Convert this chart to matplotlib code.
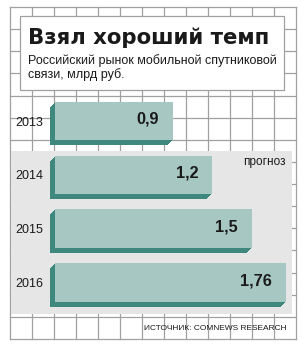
import matplotlib
matplotlib.use("Agg")
import matplotlib.pyplot as plt
import matplotlib.patheffects as pe
from matplotlib.patches import Rectangle
import numpy as np

# данные
years = ["2013", "2014", "2015", "2016"]
values = [0.9, 1.2, 1.5, 1.76]
title = "Взял хороший темп"
subtitle = ["Российский рынок мобильной спутниковой", "связи, млрд руб."]
forecast_label = "прогноз"
source = "ИСТОЧНИК: COMNEWS RESEARCH"

light = "#a7c7c3"
dark = "#3f887e"
panel = "#e6e6e6"
gridc = "#a0a0a0"
textc = "#1a1a1a"
regular = ["Liberation Sans", "DejaVu Sans"]

W, H = 306, 349
fig = plt.figure(figsize=(W / 100, H / 100), dpi=100)
renderer = fig.canvas.get_renderer()


def fit_width(t, target):
    # подогнать размер шрифта под ширину из картинки
    w = t.get_window_extent(renderer).width
    t.set_fontsize(t.get_fontsize() * target / w)


# фон в пикселях
bg = fig.add_axes([0, 0, 1, 1])
bg.set_xlim(0, W)
bg.set_ylim(H, 0)
bg.axis("off")

for x in np.linspace(9.5, 295.5, 14):
    bg.plot([x, x], [7, 339], color=gridc, lw=0.9, zorder=1)
for y in np.linspace(7, 339, 16):
    bg.plot([9.5, 295.5], [y, y], color=gridc, lw=0.9, zorder=1)

bg.add_patch(Rectangle((20, 16), 264, 74, facecolor="white", edgecolor=gridc, lw=0.9, zorder=2))
bg.add_patch(Rectangle((11, 151), 281, 163, facecolor=panel, edgecolor="none", zorder=2))

t = bg.text(28, 44, title, fontsize=14.8, fontweight="bold", color=textc,
            family="DejaVu Sans", va="baseline", zorder=3)
fit_width(t, 242)
t = bg.text(28, 64, subtitle[0], fontsize=11, color=textc, family=regular,
            fontstretch="condensed", va="baseline", zorder=3)
fit_width(t, 247)
fs_sub = t.get_fontsize()
bg.text(28, 78, subtitle[1], fontsize=fs_sub, color=textc, family=regular,
        fontstretch="condensed", va="baseline", zorder=3)
bg.text(286, 162, forecast_label, fontsize=8.5, color=textc, family=regular,
        ha="right", va="center", zorder=3)
t = bg.text(287, 328, source, fontsize=7.2, color=textc, family=regular,
            ha="right", va="center", zorder=3)
fit_width(t, 145)

# столбцы
scale = 131.0
ax = fig.add_axes([55 / W, 1 - 309.4 / H, 241 / W, 215.3 / H])
ax.set_facecolor("none")
ax.set_xlim(0, 241 / scale)
ax.set_ylim(3.5, -0.5)
for s in ax.spines.values():
    s.set_visible(False)

effects = [pe.SimplePatchShadow(offset=(-k * 0.72, -k * 0.72), shadow_rgbFace=dark, alpha=1)
           for k in range(1, 6)] + [pe.Normal()]
bars = ax.barh(range(len(years)), values, height=38.5 / 53.8, color=light, zorder=3)
for b in bars:
    b.set_clip_on(False)
    b.set_path_effects(effects)

ax.set_xticks([])
ax.set_yticks(range(len(years)))
ax.set_yticklabels(years, family=regular, fontsize=9, color=textc)
ax.tick_params(axis="y", length=0, pad=8.6)

for i, v in enumerate(values):
    ax.text(v - 14 / scale, i - 0.03, f"{v:g}".replace(".", ","), ha="right", va="center",
            fontsize=11.7, fontweight="bold", family=regular, color=textc, zorder=4)

fig.savefig("out.png", dpi=100)
